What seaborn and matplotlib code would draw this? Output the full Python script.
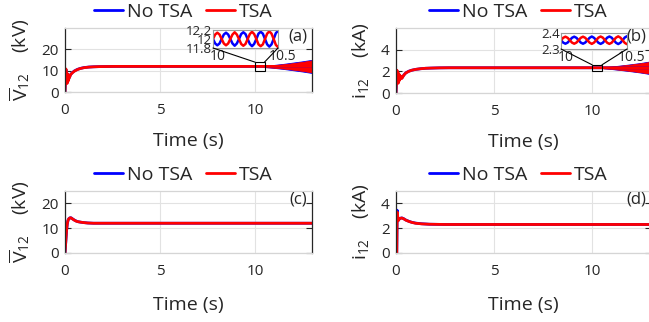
import matplotlib
matplotlib.use("Agg")
import matplotlib.pyplot as plt
import matplotlib.transforms as mtransforms
import seaborn as sns
from matplotlib.patches import Rectangle, ConnectionPatch

# ---------------- data ----------------
series_names = ["No TSA", "TSA"]

# (a) averaged voltage, kV
t_a = [0.0, 0.03, 0.05, 0.07, 0.09, 0.11, 0.13, 0.15, 0.17, 0.19, 0.21, 0.24, 0.27, 0.3,
       0.4, 0.5, 0.65, 0.8, 1.0, 1.25, 1.5, 1.8, 2.2, 2.7, 3.5, 5.0, 10.5, 13.0]
v_a_blue = [0.0, 7.0, 10.5, 5.0, 8.8, 4.3, 8.2, 5.3, 7.8, 5.8, 7.4, 6.9, 7.7, 8.3,
            9.2, 9.9, 10.6, 11.05, 11.45, 11.7, 11.82, 11.9, 11.95, 12.0, 12.0, 12.0, 12.0, 12.0]
v_a_red = [0.0, 7.5, 10.8, 4.5, 9.0, 4.0, 8.5, 5.0, 8.0, 5.5, 7.5, 6.8, 7.6, 8.2,
           9.1, 9.8, 10.5, 11.0, 11.4, 11.65, 11.8, 11.9, 11.95, 12.0, 12.0, 12.0, 12.0, 12.0]
t_osc_a = [10.5, 11.0, 11.5, 12.0, 12.5, 13.0]
amp_a_blue = [0.3, 0.7, 1.2, 1.8, 2.4, 3.1]
amp_a_red = [0.3, 0.6, 1.0, 1.5, 2.1, 2.8]
v_a_mid = 12.0

# (b) current, kA
t_b = [0.0, 0.03, 0.05, 0.07, 0.09, 0.11, 0.13, 0.15, 0.17, 0.19, 0.21, 0.24, 0.27, 0.3,
       0.35, 0.4, 0.5, 0.65, 0.8, 1.0, 1.25, 1.5, 1.8, 2.2, 2.7, 3.5, 5.0, 13.0]
i_b_blue = [0.0, 1.4, 2.05, 1.1, 1.85, 0.95, 1.75, 1.15, 1.65, 1.25, 1.55, 1.42, 1.5, 1.38,
            1.52, 1.66, 1.86, 2.01, 2.1, 2.18, 2.24, 2.28, 2.3, 2.32, 2.33, 2.33, 2.33, 2.33]
i_b_red = [0.0, 1.5, 2.1, 1.0, 1.9, 0.9, 1.8, 1.1, 1.7, 1.2, 1.6, 1.4, 1.5, 1.35,
           1.5, 1.65, 1.85, 2.0, 2.1, 2.18, 2.24, 2.28, 2.3, 2.32, 2.33, 2.33, 2.33, 2.33]
t_osc_b = [10.6, 11.0, 11.5, 12.0, 12.5, 13.0]
amp_b_blue = [0.05, 0.12, 0.22, 0.33, 0.45, 0.6]
amp_b_red = [0.05, 0.1, 0.2, 0.3, 0.42, 0.55]
i_b_mid = 2.33

# zoomed windows (10 s - 10.5 s)
t_zoom = [10.0, 10.0167, 10.0333, 10.05, 10.0667, 10.0833, 10.1, 10.1167, 10.1333, 10.15,
          10.1667, 10.1833, 10.2, 10.2167, 10.2333, 10.25, 10.2667, 10.2833, 10.3, 10.3167,
          10.3333, 10.35, 10.3667, 10.3833, 10.4, 10.4167, 10.4333, 10.45, 10.4667, 10.4833, 10.5]
za_blue = [12.00, 11.90, 11.86, 11.90, 12.00, 12.10, 12.14, 12.10, 12.00, 11.90, 11.85, 11.90,
           12.00, 12.11, 12.15, 12.11, 12.00, 11.89, 11.84, 11.89, 12.00, 12.12, 12.16, 12.12,
           12.00, 11.88, 11.83, 11.88, 12.00, 12.13, 12.18]
za_red = [12.00, 12.10, 12.14, 12.10, 12.00, 11.90, 11.86, 11.90, 12.00, 12.10, 12.15, 12.10,
          12.00, 11.89, 11.85, 11.89, 12.00, 12.11, 12.16, 12.11, 12.00, 11.88, 11.84, 11.88,
          12.00, 12.12, 12.17, 12.12, 12.00, 11.87, 11.82]
zb_blue = [2.355, 2.340, 2.333, 2.340, 2.355, 2.370, 2.377, 2.370, 2.355, 2.340, 2.333, 2.340,
           2.355, 2.370, 2.378, 2.370, 2.355, 2.339, 2.332, 2.339, 2.355, 2.371, 2.378, 2.371,
           2.355, 2.339, 2.331, 2.339, 2.355, 2.372, 2.380]
zb_red = [2.355, 2.370, 2.377, 2.370, 2.355, 2.340, 2.333, 2.340, 2.355, 2.370, 2.377, 2.370,
          2.355, 2.340, 2.332, 2.340, 2.355, 2.371, 2.378, 2.371, 2.355, 2.339, 2.332, 2.339,
          2.355, 2.371, 2.379, 2.371, 2.355, 2.338, 2.330]

# (c) averaged voltage with TSA control, kV
t_c = [0.0, 0.04, 0.08, 0.12, 0.16, 0.2, 0.25, 0.3, 0.35, 0.4, 0.5, 0.6, 0.7, 0.85, 1.0,
       1.2, 1.5, 2.0, 13.0]
v_c_blue = [0.0, 4.3, 8.8, 11.7, 13.2, 13.8, 14.15, 14.25, 14.05, 13.75, 13.25, 12.85, 12.6,
            12.4, 12.25, 12.1, 12.0, 12.0, 12.0]
v_c_red = [0.0, 4.5, 9.0, 11.8, 13.2, 13.8, 14.1, 14.2, 14.0, 13.7, 13.2, 12.8, 12.6,
           12.4, 12.25, 12.1, 12.0, 12.0, 12.0]

# (d) current with TSA control, kA
t_d = [0.0, 0.04, 0.06, 0.08, 0.1, 0.13, 0.17, 0.22, 0.3, 0.4, 0.5, 0.65, 0.8, 1.0, 1.3,
       1.7, 2.5, 13.0]
i_d_blue = [0.0, 0.0, 3.45, 3.1, 2.6, 2.65, 2.75, 2.8, 2.83, 2.76, 2.66, 2.56, 2.48, 2.41,
            2.36, 2.32, 2.3, 2.3]
i_d_red = [0.0, 0.0, 3.3, 3.1, 2.6, 2.65, 2.75, 2.8, 2.82, 2.75, 2.65, 2.55, 2.47, 2.4,
           2.35, 2.32, 2.3, 2.3]

x_ticks = [0, 5, 10]
# ---------------- style ----------------
sns.set_style("white")
plt.rcParams["font.family"] = ["Open Sans", "DejaVu Sans"]
plt.rcParams["mathtext.fontset"] = "custom"
plt.rcParams["mathtext.rm"] = "Open Sans"
plt.rcParams["mathtext.it"] = "Open Sans:italic"
plt.rcParams["mathtext.bf"] = "Open Sans:bold"

BLUE = "#0000ff"
RED = "#ff0000"
TXT = "#262626"
LW = 2.0

fig = plt.figure(figsize=(6.49, 3.22), dpi=100)
W, H = 649.0, 322.0


def px_axes(l, t, r, b):
    return fig.add_axes([l / W, 1 - b / H, (r - l) / W, (b - t) / H])


ax_a = px_axes(65, 28, 312, 92)
ax_b = px_axes(396, 28, 651, 93)
ax_c = px_axes(65, 191, 312, 253)
ax_d = px_axes(396, 191, 651, 253)


def style_main(ax, ylim, yticks, ylabel, tag, xlabelpad):
    ax.set_xlim(0, 13)
    ax.set_ylim(*ylim)
    ax.set_xticks(x_ticks)
    ax.set_yticks(yticks)
    ax.grid(True, color="#e2e2e2", lw=0.8)
    ax.set_axisbelow(True)
    ax.tick_params(axis="y", direction="in", length=4, width=0.8, left=True, right=True,
                   labelsize=11, colors=TXT, pad=4.5)
    ax.tick_params(axis="x", direction="in", length=0, labelsize=11, colors=TXT, pad=8)
    for s in ["left", "right"]:
        ax.spines[s].set_color(TXT)
        ax.spines[s].set_linewidth(0.9)
    for s in ["top", "bottom"]:
        ax.spines[s].set_color("#d5d5d5")
        ax.spines[s].set_linewidth(0.9)
    ax.set_xlabel("Time (s)", fontsize=14, color=TXT, labelpad=xlabelpad)
    ax.set_ylabel(ylabel, fontsize=14, color=TXT, labelpad=7)
    ax.text(0.98, 0.99, tag, transform=ax.transAxes, ha="right", va="top",
            fontsize=12, color=TXT)
    h, l = ax.get_legend_handles_labels()
    ax.legend(h, l, loc="lower center", bbox_to_anchor=(0.48, 1.08), ncol=2,
              frameon=False, fontsize=14, handlelength=1.5, handletextpad=0.2,
              columnspacing=0.7, borderaxespad=0.0, borderpad=0.1)


def draw_pair(ax, t, yb, yr, lw=LW, legend=True):
    sns.lineplot(x=t, y=yb, color=BLUE, lw=lw, ax=ax, label=series_names[0] if legend else None,
                 sort=False, estimator=None)
    sns.lineplot(x=t, y=yr, color=RED, lw=lw, ax=ax, label=series_names[1] if legend else None,
                 sort=False, estimator=None)


def draw_band(ax, t, mid, amp, color):
    lo = [mid - a for a in amp]
    hi = [mid + a for a in amp]
    ax.fill_between(t, lo, hi, color=color, lw=0.6, edgecolor=color)


# (a)
draw_pair(ax_a, t_a, v_a_blue, v_a_red)
draw_band(ax_a, t_osc_a, v_a_mid, amp_a_blue, BLUE)
draw_band(ax_a, t_osc_a, v_a_mid, amp_a_red, RED)
style_main(ax_a, (0, 30), [0, 10, 20], r"$\overline{\mathrm{V}}_{12}$    (kV)", "(a)", 10)

# (b)
draw_pair(ax_b, t_b, i_b_blue, i_b_red)
draw_band(ax_b, t_osc_b, i_b_mid, amp_b_blue, BLUE)
draw_band(ax_b, t_osc_b, i_b_mid, amp_b_red, RED)
style_main(ax_b, (0, 6), [0, 2, 4], r"$\mathrm{i}_{12}$    (kA)", "(b)", 10)

# (c)
draw_pair(ax_c, t_c, v_c_blue, v_c_red)
style_main(ax_c, (0, 25), [0, 10, 20], r"$\overline{\mathrm{V}}_{12}$    (kV)", "(c)", 12)

# (d)
draw_pair(ax_d, t_d, i_d_blue, i_d_red)
style_main(ax_d, (0, 5), [0, 2, 4], r"$\mathrm{i}_{12}$    (kA)", "(d)", 12)


# ---------------- insets ----------------
def make_inset(ax, rect_px, zb, zr, ylim, yticks, ylabels, box):
    l, t, r, b = rect_px
    axi = fig.add_axes([l / W, 1 - b / H, (r - l) / W, (b - t) / H])
    draw_pair(axi, t_zoom, zb, zr, lw=1.8, legend=False)
    axi.set_xlim(10, 10.5)
    axi.set_ylim(*ylim)
    axi.set_xticks([10, 10.5])
    axi.set_xticklabels(["10", "10.5"])
    axi.set_yticks(yticks)
    axi.set_yticklabels(ylabels)
    axi.tick_params(axis="x", length=0, labelsize=10, colors=TXT, pad=1)
    axi.tick_params(axis="y", length=0, labelsize=9.5, colors=TXT, pad=1)
    shift = mtransforms.ScaledTranslation(5 / 100, 0, fig.dpi_scale_trans)
    for lab in axi.get_xticklabels():
        lab.set_transform(lab.get_transform() + shift)
    axi.set_xlabel("")
    axi.set_ylabel("")
    axi.grid(False)
    for s in axi.spines.values():
        s.set_color("#9a9a9a")
        s.set_linewidth(0.8)
    x0, y0, w, h = box
    ax.add_patch(Rectangle((x0, y0), w, h, fill=False, ec="black", lw=0.8, zorder=5))
    for (xa, xb) in [(0, x0), (1, x0 + w)]:
        cp = ConnectionPatch(xyA=(xa, 0), coordsA=axi.transAxes,
                             xyB=(xb, y0 + h), coordsB=ax.transData,
                             color="black", lw=0.8)
        fig.add_artist(cp)
    return axi


make_inset(ax_a, (213, 30, 278, 48), za_blue, za_red, (11.8, 12.2),
           [11.8, 12, 12.2], ["11.8", "12", "12.2"], (10, 10, 0.5, 4))
make_inset(ax_b, (561, 33, 627, 49), zb_blue, zb_red, (2.3, 2.4),
           [2.3, 2.4], ["2.3", "2.4"], (10, 2.05, 0.5, 0.55))

fig.savefig("out.png", dpi=100)
